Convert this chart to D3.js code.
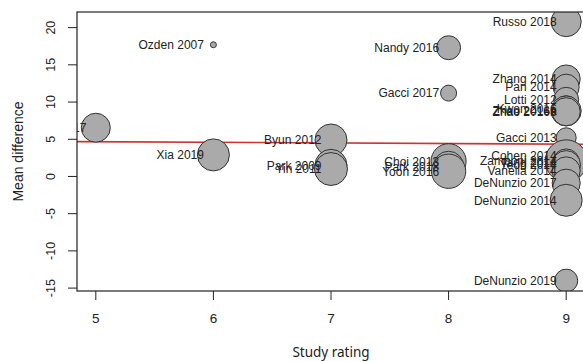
<!DOCTYPE html>
<html><head><meta charset="utf-8">
<script src="https://cdn.jsdelivr.net/npm/d3@7"></script>
<style>
html,body{margin:0;padding:0;background:#fff;}
svg{display:block;}
text{font-family:"Liberation Sans",Arial,sans-serif;}
</style></head>
<body>
<svg id="c" width="583" height="362"></svg>
<script>
// ---- data ----
const studies = ["Kim 2017","Ozden 2007","Xia 2019","Byun 2012","Park 2009","Yin 2011","Nandy 2016","Gacci 2017","Choi 2013","Park 2018","Yoon 2016","Russo 2018","Zhang 2014","Pan 2014","Lotti 2012","Kwon 2016","Zhao 2016a","Zhao 2016b","Gacci 2013","Cohen 2014","Zamboni 2014","Tang 2014","Yeoh 2014","Vanella 2014","DeNunzio 2017","DeNunzio 2014","DeNunzio 2019"];
const ratings = [5,6,6,7,7,7,8,8,8,8,8,9,9,9,9,9,9,9,9,9,9,9,9,9,9,9,9];
const meanDiff = [6.55,17.7,2.9,4.9,1.5,1.0,17.3,11.2,2.05,1.35,0.7,20.8,13.1,12.0,10.3,9.1,8.8,8.7,5.2,2.8,2.1,1.9,1.55,0.75,-0.9,-3.2,-14.0];
const weights = [82,3.5,100,100,100,106,56,25,120,90,115,88,77,66,61,66,88,77,39,77,172,70,80,77,77,100,52];
const xTicks = [5,6,7,8,9];
const yTicks = [-15,-10,-5,0,5,10,15,20];
const regIntercept = 5.07, regSlope = -0.081;

// ---- layout ----
const L = 77, T = 12, R = 585, B = 291;
const svg = d3.select("#c");
const x = d3.scaleLinear().domain([4.84, 9.16]).range([L, R]);
const y = d3.scaleLinear().domain([-15.39, 22.1]).range([B, T]);
const rs = d3.scaleSqrt().domain([0, 100]).range([0, 16]);

svg.append("defs").append("clipPath").attr("id","pc")
  .append("rect").attr("x",L).attr("y",T).attr("width",R-L).attr("height",B-T);

const plot = svg.append("g").attr("clip-path","url(#pc)");

// regression line
const xd = x.domain();
plot.append("line")
  .attr("x1", x(xd[0])).attr("y1", y(regIntercept + regSlope*xd[0]))
  .attr("x2", x(xd[1])).attr("y2", y(regIntercept + regSlope*xd[1]))
  .attr("stroke","#cc3333").attr("stroke-width",1.6);

const data = studies.map((s,i)=>({s, r: ratings[i], v: meanDiff[i], w: weights[i]}));

plot.selectAll("circle.b").data(data).join("circle")
  .attr("class","b")
  .attr("cx", d=>x(d.r)).attr("cy", d=>y(d.v)).attr("r", d=>rs(d.w))
  .attr("fill","#aaaaaa").attr("stroke","#333").attr("stroke-width",1);

plot.selectAll("text.lab").data(data).join("text")
  .attr("class","lab")
  .attr("x", d=>x(d.r)-9.5).attr("y", d=>y(d.v)).attr("dy","0.36em")
  .attr("text-anchor","end").attr("font-size",12).attr("fill","#222")
  .text(d=>d.s);

// box
svg.append("rect").attr("x",L).attr("y",T).attr("width",R-L).attr("height",B-T)
  .attr("fill","none").attr("stroke","#222").attr("stroke-width",1.2);

// y axis
const ya = svg.append("g");
ya.selectAll("line").data(yTicks).join("line")
  .attr("x1",L).attr("x2",L-9).attr("y1",d=>y(d)).attr("y2",d=>y(d))
  .attr("stroke","#222").attr("stroke-width",1);
ya.selectAll("text").data(yTicks).join("text")
  .attr("transform",d=>`translate(55,${y(d)}) rotate(-90)`)
  .attr("text-anchor","middle").attr("font-size",12.5).attr("fill","#222")
  .text(d=>d);

// x axis
const xa = svg.append("g");
xa.selectAll("line").data(xTicks).join("line")
  .attr("x1",d=>x(d)).attr("x2",d=>x(d)).attr("y1",B).attr("y2",B+9)
  .attr("stroke","#222").attr("stroke-width",1);
xa.selectAll("text").data(xTicks).join("text")
  .attr("x",d=>x(d)).attr("y",323)
  .attr("text-anchor","middle").attr("font-size",13.5).attr("fill","#222")
  .text(d=>d);

// axis titles
svg.append("text").attr("transform",`translate(23,${(T+B)/2}) rotate(-90)`)
  .attr("text-anchor","middle").attr("font-size",14).attr("fill","#222")
  .text("Mean difference");
svg.append("text").attr("x",331).attr("y",357)
  .attr("text-anchor","middle").attr("font-size",13.5).attr("fill","#222")
  .style("font-family","'Noto Sans',sans-serif")
  .text("Study rating");
</script>
</body></html>
